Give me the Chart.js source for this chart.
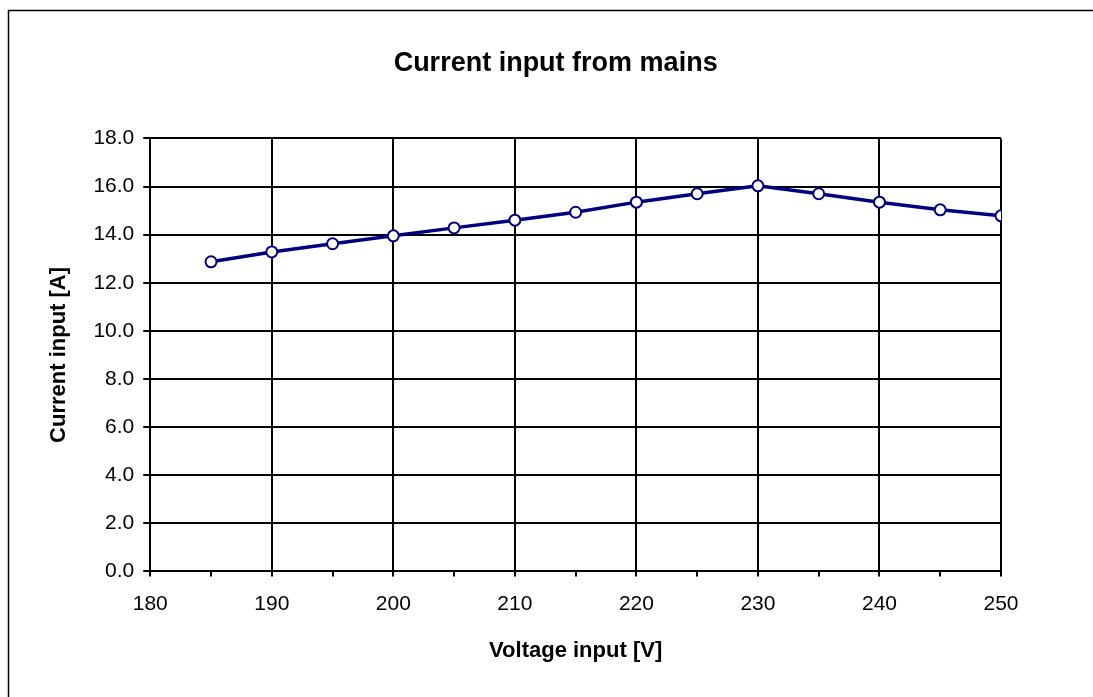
<!DOCTYPE html>
<html>
<head>
<style>
  body { margin: 0; background: #ffffff; }
</style>
<script src="https://cdn.jsdelivr.net/npm/chart.js@4/dist/chart.umd.min.js"></script>
</head>
<body>
<canvas id="mainsChart" width="1093" height="697"></canvas>
<script>
// values
var voltage = [185, 190, 195, 200, 205, 210, 215, 220, 225, 230, 235, 240, 245, 250];
var current = [12.87, 13.28, 13.62, 13.95, 14.28, 14.60, 14.93, 15.35, 15.70, 16.03, 15.70, 15.35, 15.03, 14.78];

var chartTitle = 'Current input from mains';
var xTitle = 'Voltage input [V]';
var yTitle = 'Current input [A]';

var points = voltage.map(function (v, i) { return { x: v, y: current[i] }; });

// frame round the picture (only top/left show in the original) and the
// title, which sits a bit right of where chart.js would centre it
var framePlugin = {
    id: 'frame',
    afterDraw: function (chart) {
        var c = chart.ctx;
        c.save();
        c.strokeStyle = '#000000';
        c.lineWidth = 1.5;
        c.strokeRect(8.5, 10.5, 1200, 800);

        var tb = chart.titleBlock;
        var midY = tb.top + 47 + 27 * 1.2 / 2;
        var midX = (chart.chartArea.left + chart.chartArea.right) / 2 - 20;
        c.font = 'bold 27px "Liberation Sans", Arial, sans-serif';
        c.fillStyle = '#000000';
        c.textAlign = 'center';
        c.textBaseline = 'middle';
        c.fillText(chartTitle, midX, midY);
        c.restore();
    }
};

Chart.defaults.font.family = '"Liberation Sans", Arial, sans-serif';
Chart.defaults.color = '#000000';

new Chart(document.getElementById('mainsChart'), {
    type: 'line',
    data: {
        datasets: [{
            label: 'Current',
            data: points,
            borderColor: '#000080',
            borderWidth: 3.5,
            pointBackgroundColor: '#ffffff',
            pointBorderColor: '#000080',
            pointBorderWidth: 2,
            pointRadius: 5.5,
            tension: 0,
            fill: false
        }]
    },
    options: {
        responsive: false,
        animation: false,
        layout: { padding: { left: 46, right: 92, top: 0, bottom: 33 } },
        plugins: {
            legend: { display: false },
            tooltip: { enabled: false },
            title: {
                // keeps the room; the text itself is drawn by framePlugin
                display: true,
                text: chartTitle,
                font: { size: 27, weight: 'bold' },
                color: 'rgba(0,0,0,0)',
                padding: { top: 47, bottom: 59 }
            }
        },
        scales: {
            x: {
                type: 'linear',
                min: 180,
                max: 250,
                border: { color: '#000000', width: 2 },
                grid: {
                    color: function (ctx) {
                        return (ctx.tick && ctx.tick.value % 10 === 0) ? '#000000' : 'rgba(0,0,0,0)';
                    },
                    tickColor: '#000000',
                    lineWidth: 2,
                    tickLength: 5
                },
                ticks: {
                    stepSize: 5,
                    autoSkip: false,
                    maxRotation: 0,
                    padding: 15,
                    font: { size: 21 },
                    callback: function (v) { return v % 10 === 0 ? String(v) : ''; }
                },
                title: {
                    display: true,
                    text: xTitle,
                    font: { size: 22, weight: 'bold' },
                    padding: { top: 6, bottom: 0 }
                }
            },
            y: {
                min: 0,
                max: 18,
                border: { color: '#000000', width: 2 },
                grid: {
                    color: '#000000',
                    lineWidth: 2,
                    tickLength: 7
                },
                ticks: {
                    stepSize: 2,
                    padding: 9,
                    font: { size: 21 },
                    callback: function (v) { return v.toFixed(1); }
                },
                title: {
                    display: true,
                    text: yTitle,
                    font: { size: 22, weight: 'bold' },
                    padding: { top: 0, bottom: 12 }
                }
            }
        }
    },
    plugins: [framePlugin]
});
</script>
</body>
</html>
